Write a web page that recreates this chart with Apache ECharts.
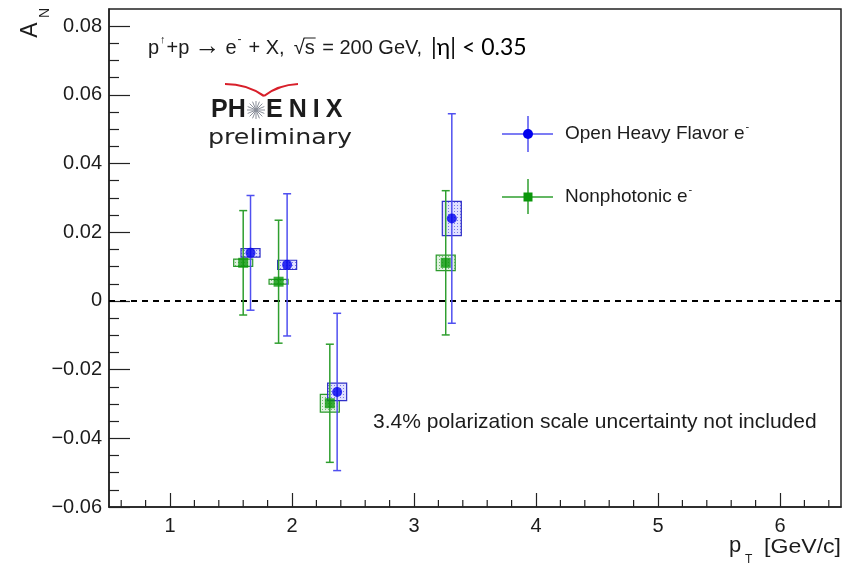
<!DOCTYPE html>
<html>
<head>
<meta charset="utf-8">
<script src="https://cdn.jsdelivr.net/npm/echarts@6/dist/echarts.min.js"></script>
<style>
  html, body { margin: 0; padding: 0; background: #ffffff; }
  #chart { width: 848px; height: 566px; }
</style>
</head>
<body>
<div id="chart"></div>
<script>
// Single-spin asymmetry A_N of electrons versus p_T
const seriesNames = ['Open Heavy Flavor e', 'Nonphotonic e'];

// Open heavy flavor electrons
const hfPt   = [1.66, 1.96, 2.37, 3.31];
const hfAN   = [0.0140, 0.0105, -0.0265, 0.0240];
const hfStat = [0.0167, 0.0207, 0.0229, 0.0305];
const hfSys  = [0.00125, 0.00135, 0.00255, 0.0050];

// Nonphotonic electrons
const npPt   = [1.60, 1.89, 2.31, 3.26];
const npAN   = [0.0111, 0.0056, -0.0298, 0.0111];
const npStat = [0.0152, 0.0179, 0.0172, 0.0210];
const npSys  = [0.00105, 0.0007, 0.0026, 0.00225];

// Axis ticks
const xMajorTicks = [1, 2, 3, 4, 5, 6];
const xMinorTicks = [0.6, 0.8, 1.2, 1.4, 1.6, 1.8, 2.2, 2.4, 2.6, 2.8, 3.2, 3.4, 3.6, 3.8,
                     4.2, 4.4, 4.6, 4.8, 5.2, 5.4, 5.6, 5.8, 6.2, 6.4];
const yTickLabels = [-0.06, -0.04, -0.02, 0, 0.02, 0.04, 0.06, 0.08];
const zeroLine = [[0.5, 0], [6.5, 0]];

const X_MIN = 0.5, X_MAX = 6.5, Y_MIN = -0.06, Y_MAX = 0.085;
const BLUE = '#0000ee', BLUE_BAR = '#5050f0', BLUE_BOX = '#3030c8';
const GREEN = '#0a960a', GREEN_BAR = '#2f9f2f', GREEN_BOX = '#2c9a2c';
const INK = '#1c1c1c';
const SANS = 'Liberation Sans, Arial, Helvetica, sans-serif';

const GRID = { left: 109, right: 7, top: 9, bottom: 59 };

// dotted fill used inside the systematic-uncertainty boxes
function dotPattern(bg, dot) {
  const c = document.createElement('canvas');
  c.width = 3; c.height = 3;
  const g = c.getContext('2d');
  g.fillStyle = bg; g.fillRect(0, 0, 3, 3);
  g.fillStyle = dot; g.fillRect(1, 1, 1, 1);
  return { image: c, repeat: 'repeat' };
}
const bluePattern = dotPattern('rgba(225,225,255,1)', 'rgba(110,110,230,0.9)');
const greenPattern = dotPattern('rgba(225,242,225,1)', 'rgba(90,170,90,0.8)');

const BOX_HALF_W = 0.078;

function boxRenderer(stroke, fill) {
  return function (params, api) {
    const x = api.value(0), y = api.value(1), s = api.value(3);
    const p1 = api.coord([x - BOX_HALF_W, y + s]);
    const p2 = api.coord([x + BOX_HALF_W, y - s]);
    return {
      type: 'rect',
      shape: { x: p1[0], y: p1[1], width: p2[0] - p1[0], height: p2[1] - p1[1] },
      style: { fill: fill, stroke: stroke, lineWidth: 1.2 }
    };
  };
}

function barRenderer(color) {
  return function (params, api) {
    const x = api.value(0), y = api.value(1), e = api.value(2);
    const top = api.coord([x, y + e]);
    const bot = api.coord([x, y - e]);
    const cap = 4;
    const st = { stroke: color, lineWidth: 1.5 };
    return {
      type: 'group',
      children: [
        { type: 'line', shape: { x1: top[0], y1: top[1], x2: bot[0], y2: bot[1] }, style: st },
        { type: 'line', shape: { x1: top[0] - cap, y1: top[1], x2: top[0] + cap, y2: top[1] }, style: st },
        { type: 'line', shape: { x1: bot[0] - cap, y1: bot[1], x2: bot[0] + cap, y2: bot[1] }, style: st }
      ]
    };
  };
}

// short inward tick on the bottom axis at each minor p_T value
function minorTickRenderer(params, api) {
  const p = api.coord([api.value(0), Y_MIN]);
  return {
    type: 'line',
    shape: { x1: p[0], y1: p[1], x2: p[0], y2: p[1] - 7 },
    style: { stroke: '#222', lineWidth: 1.2 }
  };
}

const hfData = hfPt.map((x, i) => [x, hfAN[i], hfStat[i], hfSys[i]]);
const npData = npPt.map((x, i) => [x, npAN[i], npStat[i], npSys[i]]);

// lay out a row of text pieces left to right (super/subscripts via dy)
const measureCtx = document.createElement('canvas').getContext('2d');
function textRow(pieces, x0, yMid) {
  let x = x0;
  const out = [];
  const starts = [];
  pieces.forEach(p => {
    const family = p.family || SANS;
    const weight = p.weight || 'normal';
    measureCtx.font = weight + ' ' + p.size + 'px ' + family;
    const w = measureCtx.measureText(p.t).width;
    x += (p.dx || 0);
    starts.push(x);
    out.push({
      type: 'text', x: x, y: yMid + (p.dy || 0), silent: true,
      style: {
        text: p.t, fontSize: p.size, fontFamily: family, fontWeight: weight,
        fill: p.color || INK, align: 'left', verticalAlign: 'middle'
      }
    });
    x += w + (p.gap || 0);
  });
  return { elements: out, starts: starts, end: x };
}

// header line
const HS = 20;
const header = textRow([
  { t: 'p', size: HS },
  { t: '\u2191', size: 11, dy: -8, dx: 1 },
  { t: '+p', size: HS, dx: 1 },
  { t: '\u2192', size: 26, dx: 5, gap: 5, dy: -1 },
  { t: 'e', size: HS },
  { t: '-', size: 12, dy: -8, dx: 1, gap: 5 },
  { t: '+ X,', size: HS, dx: 2, gap: 9 },
  { t: '\u221A', size: HS },
  { t: 's', size: HS },
  { t: ' = 200 GeV,', size: HS, dx: 2 },
  { t: '|\u03B7| < 0.35', size: 23, family: 'Lato, Carlito, sans-serif', color: '#000000', dx: 9 }
], 148, 48);

// overbar above the "s" of the square root
measureCtx.font = 'normal ' + HS + 'px ' + SANS;
const sStart = header.starts[8];
const sWidth = measureCtx.measureText('s').width;

const legendHF = textRow([
  { t: 'Open Heavy Flavor e', size: 19 },
  { t: '-', size: 11, dy: -7, dx: 1 }
], 565, 134);
const legendNP = textRow([
  { t: 'Nonphotonic e', size: 19 },
  { t: '-', size: 11, dy: -7, dx: 1 }
], 565, 197);

// PHENIX wordmark, letters spread out
const logoLeft = textRow([
  { t: 'P', size: 25, weight: 'bold' },
  { t: 'H', size: 25, weight: 'bold' }
], 211, 110);
const logoRight = textRow([
  { t: 'E', size: 25, weight: 'bold', gap: 6 },
  { t: 'N', size: 25, weight: 'bold', gap: 6 },
  { t: 'I', size: 25, weight: 'bold', gap: 6 },
  { t: 'X', size: 25, weight: 'bold' }
], 266, 110);

// little PHENIX star
function starLines(cx, cy, r, n) {
  const lines = [];
  for (let i = 0; i < n; i++) {
    const a = Math.PI * i / n;
    lines.push({
      type: 'line', silent: true,
      shape: { x1: cx - r * Math.cos(a), y1: cy - r * Math.sin(a), x2: cx + r * Math.cos(a), y2: cy + r * Math.sin(a) },
      style: { stroke: '#8a8f9a', lineWidth: 1 }
    });
  }
  return lines;
}

const graphics = [].concat(
  header.elements,
  [{ type: 'line', silent: true,
     shape: { x1: sStart - 1, y1: 38, x2: sStart + sWidth + 1, y2: 38 },
     style: { stroke: INK, lineWidth: 1 } }],
  // axis titles
  [
    { type: 'text', x: 31, y: 30, rotation: Math.PI / 2, silent: true,
      style: { text: 'A', fontSize: 23, fontFamily: SANS, fill: INK, align: 'center', verticalAlign: 'middle' } },
    { type: 'text', x: 45, y: 13, rotation: Math.PI / 2, silent: true,
      style: { text: 'N', fontSize: 14, fontFamily: SANS, fill: INK, align: 'center', verticalAlign: 'middle' } },
    { type: 'text', x: 729, y: 546, silent: true,
      style: { text: 'p', fontSize: 22, fontFamily: SANS, fill: INK, align: 'left', verticalAlign: 'middle' } },
    { type: 'text', x: 745, y: 560, silent: true,
      style: { text: 'T', fontSize: 12, fontFamily: SANS, fill: INK, align: 'left', verticalAlign: 'middle' } },
    { type: 'text', x: 764, y: 547, silent: true, scaleX: 1.1,
      style: { text: '[GeV/c]', fontSize: 21, fontFamily: SANS, fill: INK, align: 'left', verticalAlign: 'middle' } }
  ],
  // note
  [{ type: 'text', x: 373, y: 422, silent: true,
     style: { text: '3.4% polarization scale uncertainty not included', fontSize: 21, fontFamily: SANS,
              fill: INK, align: 'left', verticalAlign: 'middle' } }],
  // legend
  [
    { type: 'line', silent: true, shape: { x1: 502, y1: 134, x2: 553, y2: 134 }, style: { stroke: BLUE_BAR, lineWidth: 1.5 } },
    { type: 'line', silent: true, shape: { x1: 528, y1: 116, x2: 528, y2: 152 }, style: { stroke: BLUE_BAR, lineWidth: 1.5 } },
    { type: 'circle', silent: true, shape: { cx: 528, cy: 134, r: 5 }, style: { fill: BLUE } },
    { type: 'line', silent: true, shape: { x1: 502, y1: 197, x2: 553, y2: 197 }, style: { stroke: GREEN_BAR, lineWidth: 1.5 } },
    { type: 'line', silent: true, shape: { x1: 528, y1: 179, x2: 528, y2: 214 }, style: { stroke: GREEN_BAR, lineWidth: 1.5 } },
    { type: 'rect', silent: true, shape: { x: 523.5, y: 192.5, width: 9, height: 9 }, style: { fill: GREEN } }
  ],
  legendHF.elements,
  legendNP.elements,
  // PHENIX logo
  [
    { type: 'bezierCurve', silent: true,
      shape: { x1: 225, y1: 84, cpx1: 247, cpy1: 84, x2: 264, y2: 96 },
      style: { stroke: '#d81f2a', lineWidth: 2.2, fill: null } },
    { type: 'bezierCurve', silent: true,
      shape: { x1: 264, y1: 96, cpx1: 278, cpy1: 85, x2: 298, y2: 84 },
      style: { stroke: '#d81f2a', lineWidth: 2.2, fill: null } },
    { type: 'text', x: 280, y: 138, silent: true, scaleX: 1.15,
      style: { text: 'preliminary', fontSize: 22, fontFamily: 'DejaVu Sans, sans-serif', fill: '#222', align: 'center', verticalAlign: 'middle' } }
  ],
  logoLeft.elements,
  logoRight.elements,
  starLines(256, 110, 9, 8)
);

const chart = echarts.init(document.getElementById('chart'), null, { renderer: 'canvas' });

const axisLineStyle = { color: '#222', width: 1.5 };

chart.setOption({
  animation: false,
  backgroundColor: '#ffffff',
  grid: Object.assign({ show: true, borderColor: '#222', borderWidth: 1.5, backgroundColor: 'transparent' }, GRID),
  xAxis: {
    type: 'value', min: X_MIN, max: X_MAX,
    axisLine: { show: true, onZero: false, lineStyle: axisLineStyle },
    axisTick: { show: true, inside: true, length: 14, customValues: xMajorTicks, lineStyle: { color: '#222', width: 1.2 } },
    axisLabel: { show: true, customValues: xMajorTicks, fontSize: 20, fontFamily: SANS, color: INK, margin: 9,
                 formatter: v => String(Math.round(v)) },
    splitLine: { show: false }
  },
  yAxis: {
    type: 'value', min: Y_MIN, max: Y_MAX, interval: 0.02,
    axisLine: { show: true, onZero: false, lineStyle: axisLineStyle },
    axisTick: { show: true, inside: true, length: 21, customValues: yTickLabels, lineStyle: { color: '#222', width: 1.2 } },
    minorTick: { show: true, splitNumber: 4, length: 10, lineStyle: { color: '#222', width: 1.2 } },
    axisLabel: { show: true, customValues: yTickLabels, fontSize: 20, fontFamily: SANS, color: INK, margin: 7,
                 formatter: v => Math.abs(v) < 1e-9 ? '0' : v.toFixed(2).replace('-', '\u2212') },
    splitLine: { show: false }, minorSplitLine: { show: false }
  },
  series: [
    {
      name: 'minor ticks', type: 'custom', renderItem: minorTickRenderer,
      data: xMinorTicks.map(v => [v]), z: 5, silent: true, clip: false
    },
    {
      name: 'zero', type: 'line', data: zeroLine,
      symbol: 'none', silent: true,
      lineStyle: { color: '#000', width: 2, type: [6, 5] }, z: 1
    },
    {
      name: seriesNames[1] + ' sys', type: 'custom',
      renderItem: boxRenderer(GREEN_BOX, greenPattern), data: npData, z: 2, silent: true
    },
    {
      name: seriesNames[0] + ' sys', type: 'custom',
      renderItem: boxRenderer(BLUE_BOX, bluePattern), data: hfData, z: 2, silent: true
    },
    {
      name: seriesNames[1] + ' stat', type: 'custom',
      renderItem: barRenderer(GREEN_BAR), data: npData, z: 3, silent: true
    },
    {
      name: seriesNames[0] + ' stat', type: 'custom',
      renderItem: barRenderer(BLUE_BAR), data: hfData, z: 3, silent: true
    },
    {
      name: seriesNames[1], type: 'scatter',
      data: npPt.map((x, i) => [x, npAN[i]]),
      symbol: 'rect', symbolSize: 10, itemStyle: { color: GREEN }, z: 4, silent: true
    },
    {
      name: seriesNames[0], type: 'scatter',
      data: hfPt.map((x, i) => [x, hfAN[i]]),
      symbol: 'circle', symbolSize: 10, itemStyle: { color: BLUE }, z: 4, silent: true
    }
  ],
  graphic: { elements: graphics }
});
</script>
</body>
</html>
